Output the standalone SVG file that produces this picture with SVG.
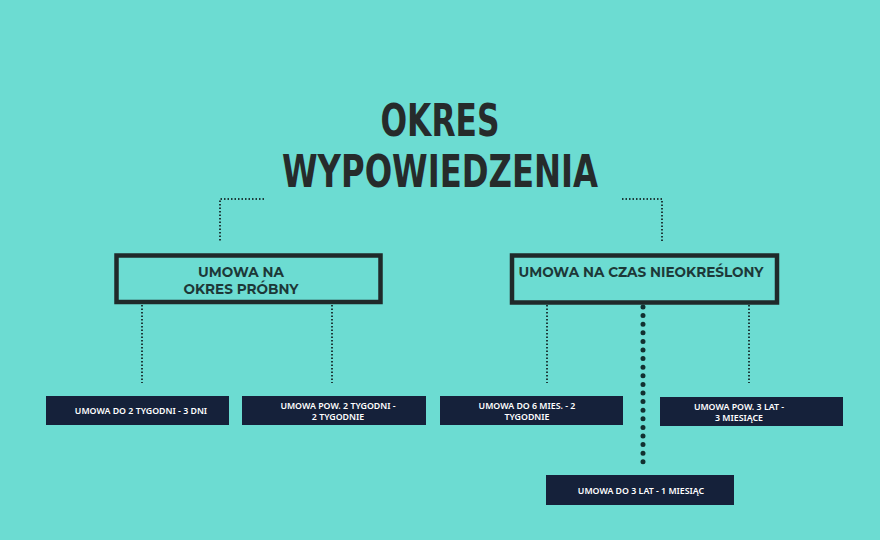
<svg xmlns="http://www.w3.org/2000/svg" width="880" height="540" viewBox="0 0 880 540">
<style>
.title{font-family:"DejaVu Sans Condensed","DejaVu Sans",sans-serif;font-weight:bold;font-size:44px;fill:#262b2b;text-anchor:middle}
.hdr{fill:none;stroke:#1f2a2a;stroke-width:4.5}
.ht{font-family:"Montserrat","Noto Sans","Liberation Sans",sans-serif;font-weight:bold;font-size:13.6px;fill:#1d3838;text-anchor:middle}
.leaf{fill:#15213a}
.lt{font-family:"Noto Sans","Liberation Sans",sans-serif;font-weight:600;font-size:8.8px;fill:#ffffff;text-anchor:middle}
.thin{fill:none;stroke:#1d3a3a;stroke-width:2;stroke-dasharray:1.5 2}
.big{fill:none;stroke:#123030;stroke-width:5;stroke-linecap:round;stroke-dasharray:0 8.6}
</style>
<rect width="880" height="540" fill="#6cdcd2"/>
<g id="title">
<text class="title" x="440" y="136" textLength="119" lengthAdjust="spacingAndGlyphs">OKRES</text>
<text class="title" x="440" y="187" textLength="316" lengthAdjust="spacingAndGlyphs">WYPOWIEDZENIA</text>
</g>
<g id="connectors">
<path class="thin" d="M264 199 H220 V242"/>
<path class="thin" d="M622 199 H662 V242"/>
<path class="thin" d="M142 305 V383"/>
<path class="thin" d="M332 305 V383"/>
<path class="thin" d="M547 305 V383"/>
<path class="thin" d="M749 305 V383"/>
<path class="big" d="M643 307 V462"/>
</g>
<g id="probny">
<rect class="hdr" x="116.5" y="255.5" width="264" height="46.5"/>
<text class="ht" x="241" y="277">UMOWA NA</text>
<text class="ht" x="241" y="294">OKRES PRÓBNY</text>
</g>
<g id="nieokreslony">
<rect class="hdr" x="512" y="255.5" width="265" height="47"/>
<text class="ht" x="641" y="277">UMOWA NA CZAS NIEOKREŚLONY</text>
</g>
<g id="leaf1">
<rect class="leaf" x="46" y="396" width="183" height="29"/>
<text class="lt" x="141" y="413.5">UMOWA DO 2 TYGODNI - 3 DNI</text>
</g>
<g id="leaf2">
<rect class="leaf" x="242" y="396" width="184" height="29"/>
<text class="lt" x="338" y="409">UMOWA POW. 2 TYGODNI -</text>
<text class="lt" x="338" y="419.5">2 TYGODNIE</text>
</g>
<g id="leaf3">
<rect class="leaf" x="440" y="396" width="183" height="29"/>
<text class="lt" x="527" y="409">UMOWA DO 6 MIES. - 2</text>
<text class="lt" x="527" y="419.5">TYGODNIE</text>
</g>
<g id="leaf4">
<rect class="leaf" x="660" y="397" width="183" height="29"/>
<text class="lt" x="739" y="410">UMOWA POW. 3 LAT -</text>
<text class="lt" x="739" y="420.5">3 MIESIĄCE</text>
</g>
<g id="leaf5">
<rect class="leaf" x="546" y="475" width="188" height="30"/>
<text class="lt" x="641" y="493.5">UMOWA DO 3 LAT - 1 MIESIĄC</text>
</g>
</svg>
